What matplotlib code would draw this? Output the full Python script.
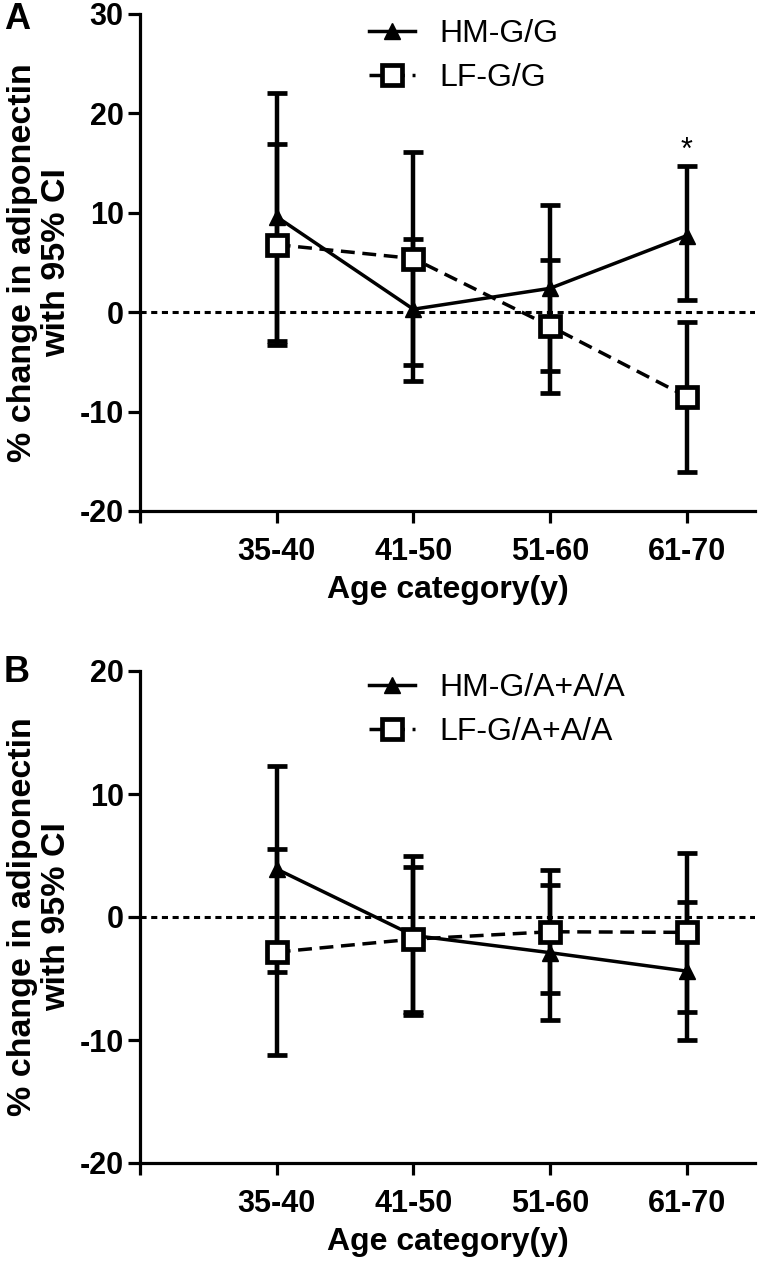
import numpy as np
import matplotlib
matplotlib.use("Agg")
import matplotlib.pyplot as plt

plt.rcParams['font.family'] = ['Liberation Sans', 'DejaVu Sans']
plt.rcParams['axes.unicode_minus'] = False

ages = ["35-40", "41-50", "51-60", "61-70"]

# panel A (G/G)
hm_gg = [9.6, 0.3, 2.4, 7.7]
hm_gg_lo = [-2.9, -6.9, -5.9, 1.2]
hm_gg_hi = [22.1, 7.4, 10.8, 14.7]
lf_gg = [6.8, 5.4, -1.4, -8.5]
lf_gg_lo = [-3.3, -5.3, -8.1, -16.1]
lf_gg_hi = [16.9, 16.1, 5.3, -1.0]

# panel B (G/A + A/A)
hm_ga = [3.9, -1.5, -2.9, -4.4]
hm_ga_lo = [-4.5, -8.0, -8.4, -10.0]
hm_ga_hi = [12.3, 5.0, 2.6, 1.2]
lf_ga = [-2.85, -1.8, -1.2, -1.25]
lf_ga_lo = [-11.2, -7.7, -6.2, -7.7]
lf_ga_hi = [5.5, 4.1, 3.8, 5.2]


def draw_panel(ax, hm, hm_lo, hm_hi, lf, lf_lo, lf_hi, labels, ylim, yticks, leg_y):
    x = np.arange(1, len(ages) + 1)
    ax.axhline(0, color='black', lw=2.2, ls=(0, (2.0, 1.5)), zorder=1)

    for vals, lo, hi in [(hm, hm_lo, hm_hi), (lf, lf_lo, lf_hi)]:
        vals = np.array(vals)
        err = [vals - np.array(lo), np.array(hi) - vals]
        eb = ax.errorbar(x, vals, yerr=err, fmt='none', ecolor='black',
                         elinewidth=3.2, capsize=7.5, capthick=3.4, zorder=2)
        for c in eb[1]:
            c.set_solid_capstyle('round')

    h1, = ax.plot(x, hm, color='black', lw=2.5, marker='^', ms=11.5,
                  mfc='black', mec='black', zorder=3)
    h2, = ax.plot(x, lf, color='black', lw=2.5, ls=(0, (4, 2.2)), marker='s',
                  ms=14, mfc='white', mec='black', mew=3.4, zorder=4)

    ax.set_xlim(0, 4.5)
    ax.set_ylim(*ylim)
    ax.set_yticks(yticks)
    ax.set_xticks([0] + list(x))
    ax.set_xticklabels([''] + ages)
    for s in ['top', 'right']:
        ax.spines[s].set_visible(False)
    for s in ['left', 'bottom']:
        ax.spines[s].set_linewidth(2.3)
    ax.tick_params(axis='both', width=2.3, length=8.7, labelsize=22)
    ax.tick_params(axis='x', pad=10)
    ax.tick_params(axis='y', pad=3)
    for t in ax.get_xticklabels() + ax.get_yticklabels():
        t.set_fontweight('bold')

    ax.set_xlabel("Age category(y)", fontsize=23, fontweight='bold', labelpad=6)
    ax.set_ylabel("% change in adiponectin\nwith 95% CI", fontsize=24.5,
                  fontweight='bold', labelpad=5, linespacing=1.15)

    ax.legend(handles=[h1, h2], labels=labels, loc='upper left',
              bbox_to_anchor=(0.372, leg_y), frameon=False, fontsize=23,
              handlelength=1.45, handletextpad=0.75, labelspacing=0.45,
              borderpad=0, borderaxespad=0)


fig = plt.figure(figsize=(7.59, 12.63), dpi=100)
ax1 = fig.add_axes([140 / 759, 1 - 511 / 1263, 615 / 759, 497 / 1263])
ax2 = fig.add_axes([140 / 759, 1 - 1163 / 1263, 615 / 759, 492 / 1263])

draw_panel(ax1, hm_gg, hm_gg_lo, hm_gg_hi, lf_gg, lf_gg_lo, lf_gg_hi,
           ["HM-G/G", "LF-G/G"], (-20, 30), [-20, -10, 0, 10, 20, 30], 0.99)
draw_panel(ax2, hm_ga, hm_ga_lo, hm_ga_hi, lf_ga, lf_ga_lo, lf_ga_hi,
           ["HM-G/A+A/A", "LF-G/A+A/A"], (-20, 20), [-20, -10, 0, 10, 20], 0.996)

ax1.text(4, 16.2, "*", ha='center', va='center', fontsize=22)

fig.text(4 / 759, 1 - 2 / 1263, "A", fontsize=26, fontweight='bold', va='top')
fig.text(4 / 759, 1 - 655 / 1263, "B", fontsize=26, fontweight='bold', va='top')

fig.savefig("out.png", dpi=100)
